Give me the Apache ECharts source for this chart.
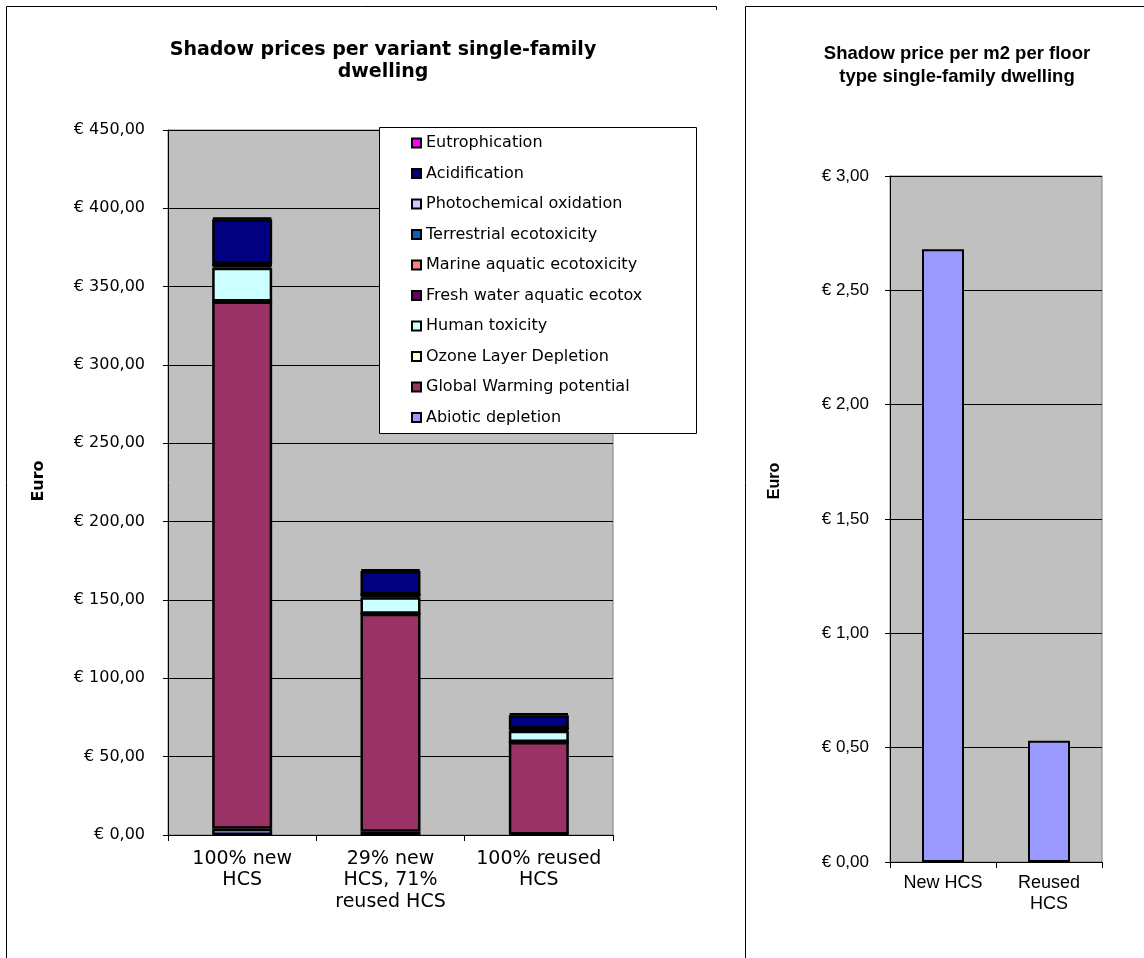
<!DOCTYPE html>
<html><head><meta charset="utf-8">
<script src="https://cdn.jsdelivr.net/npm/echarts@6/dist/echarts.min.js"></script>
<style>html,body{margin:0;padding:0;background:#fff}#c{width:1144px;height:958px}</style>
</head><body><div id="c"></div>
<script>
// ---- data ----
const categoriesLeft = ['100% new\nHCS', '29% new\nHCS, 71%\nreused HCS', '100% reused\nHCS'];
const seriesNames = ['Abiotic depletion', 'Global Warming potential', 'Ozone Layer Depletion', 'Human toxicity',
  'Fresh water aquatic ecotox', 'Marine aquatic ecotoxicity', 'Terrestrial ecotoxicity',
  'Photochemical oxidation', 'Acidification', 'Eutrophication'];
const abiotic = [4, 2, 0.3];
const globalWarming = [336.5, 139.2, 59];
const ozone = [0.05, 0.03, 0.01];
const humanTox = [21.5, 10.5, 7.3];
const freshWater = [1.5, 1.2, 1.0];
const marine = [0.2, 0.1, 0.1];
const terrestrial = [0.3, 0.2, 0.1];
const photochem = [0.5, 0.3, 0.2];
const acidification = [28.5, 15, 8.5];
const eutrophication = [1.0, 1.0, 1.0];
const leftTickLabels = ['€ 0,00', '€ 50,00', '€ 100,00', '€ 150,00', '€ 200,00', '€ 250,00', '€ 300,00', '€ 350,00', '€ 400,00', '€ 450,00'];

const categoriesRight = ['New HCS', 'Reused\nHCS'];
const pricePerM2 = [2.68, 0.53];
const rightTickLabels = ['€ 0,00', '€ 0,50', '€ 1,00', '€ 1,50', '€ 2,00', '€ 2,50', '€ 3,00'];

const seriesValues = [abiotic, globalWarming, ozone, humanTox, freshWater, marine, terrestrial, photochem, acidification, eutrophication];
const seriesColors = ['#9999FF', '#993366', '#FFFFCC', '#CCFFFF', '#660066', '#FF8080', '#0066CC', '#CCCCFF', '#000080', '#FF00FF'];

// ---- chart ----
const chart = echarts.init(document.getElementById('c'), null, {renderer: 'canvas'});
const wideFont = 'DejaVu Sans';
const armFont = 'Liberation Sans';

const leftSeries = seriesNames.map((n, i) => ({
  name: n, type: 'bar', stack: 'total', xAxisIndex: 0, yAxisIndex: 0,
  data: seriesValues[i], barWidth: 60,
  itemStyle: {color: seriesColors[i], borderColor: '#000', borderWidth: 2.5},
  emphasis: {disabled: true}
}));

const option = {
  animation: false,
  backgroundColor: '#fff',
  title: [
    {text: 'Shadow prices per variant single-family\ndwelling', left: 378, top: 34, textAlign: 'center',
     textStyle: {fontFamily: wideFont, fontWeight: 'bold', fontSize: 19, lineHeight: 22, color: '#000'}},
    {text: 'Shadow price per m2 per floor\ntype single-family dwelling', left: 952, top: 37, textAlign: 'center',
     textStyle: {fontFamily: armFont, fontWeight: 'bold', fontSize: 18.5, lineHeight: 23, color: '#000'}}
  ],
  legend: {
    left: 411, top: 135, orient: 'vertical',
    data: seriesNames.slice().reverse(),
    icon: 'rect',
    itemWidth: 9, itemHeight: 9, itemGap: 14.5, padding: 0,
    textStyle: {fontFamily: wideFont, fontSize: 16, lineHeight: 16, color: '#000'},
    selectedMode: false
  },
  grid: [
    {left: 168, top: 130, width: 445, height: 705, show: true, backgroundColor: '#C0C0C0', borderColor: '#808080', borderWidth: 1},
    {left: 890, top: 176, width: 212, height: 686, show: true, backgroundColor: '#C0C0C0', borderColor: '#808080', borderWidth: 1}
  ],
  xAxis: [
    {type: 'category', gridIndex: 0, data: categoriesLeft,
     axisLine: {lineStyle: {color: '#000', width: 1}},
     axisTick: {show: true, length: 6, lineStyle: {color: '#000'}},
     axisLabel: {interval: 0, margin: 13, fontFamily: wideFont, fontSize: 19, lineHeight: 21.5, color: '#000'}},
    {type: 'category', gridIndex: 1, data: categoriesRight,
     axisLine: {lineStyle: {color: '#000', width: 1}},
     axisTick: {show: true, length: 6, lineStyle: {color: '#000'}},
     axisLabel: {interval: 0, margin: 11, fontFamily: armFont, fontSize: 18, lineHeight: 21, color: '#000'}}
  ],
  yAxis: [
    {type: 'value', gridIndex: 0, min: 0, max: 450, interval: 50,
     axisLine: {show: true, lineStyle: {color: '#000'}},
     axisTick: {show: true, length: 5, lineStyle: {color: '#000'}},
     splitLine: {show: true, lineStyle: {color: '#000', width: 1}},
     axisLabel: {margin: 23, fontFamily: wideFont, fontSize: 16, color: '#000',
       formatter: v => leftTickLabels[Math.round(v / 50)]}},
    {type: 'value', gridIndex: 1, min: 0, max: 3, interval: 0.5,
     axisLine: {show: true, lineStyle: {color: '#000'}},
     axisTick: {show: true, length: 5, lineStyle: {color: '#000'}},
     splitLine: {show: true, lineStyle: {color: '#000', width: 1}},
     axisLabel: {margin: 21, fontFamily: armFont, fontSize: 17, color: '#000',
       formatter: v => rightTickLabels[Math.round(v / 0.5)]}}
  ],
  graphic: [
    {type: 'rect', shape: {x: 379.5, y: 127.5, width: 317, height: 306}, z: 2,
     style: {fill: '#fff', stroke: '#000', lineWidth: 1}},
    {type: 'polyline', shape: {points: [[6.5, 958], [6.5, 6.5], [716.5, 6.5], [716.5, 10]]},
     style: {fill: null, stroke: '#000', lineWidth: 1}},
    {type: 'polyline', shape: {points: [[745.5, 958], [745.5, 6.5], [1144, 6.5]]},
     style: {fill: null, stroke: '#000', lineWidth: 1}},
    {type: 'text', x: 39, y: 481, rotation: Math.PI / 2,
     style: {text: 'Euro', align: 'center', verticalAlign: 'middle', fontFamily: wideFont, fontWeight: 'bold', fontSize: 16, fill: '#000'}},
    {type: 'text', x: 775, y: 481, rotation: Math.PI / 2,
     style: {text: 'Euro', align: 'center', verticalAlign: 'middle', fontFamily: armFont, fontWeight: 'bold', fontSize: 16, fill: '#000'}}
  ],
  series: leftSeries.concat([
    {name: 'Price per m2', type: 'bar', xAxisIndex: 1, yAxisIndex: 1, data: pricePerM2, barWidth: 42,
     itemStyle: {color: '#9999FF', borderColor: '#000', borderWidth: 2}, emphasis: {disabled: true}}
  ])
};
chart.setOption(option);
</script>
</body></html>
